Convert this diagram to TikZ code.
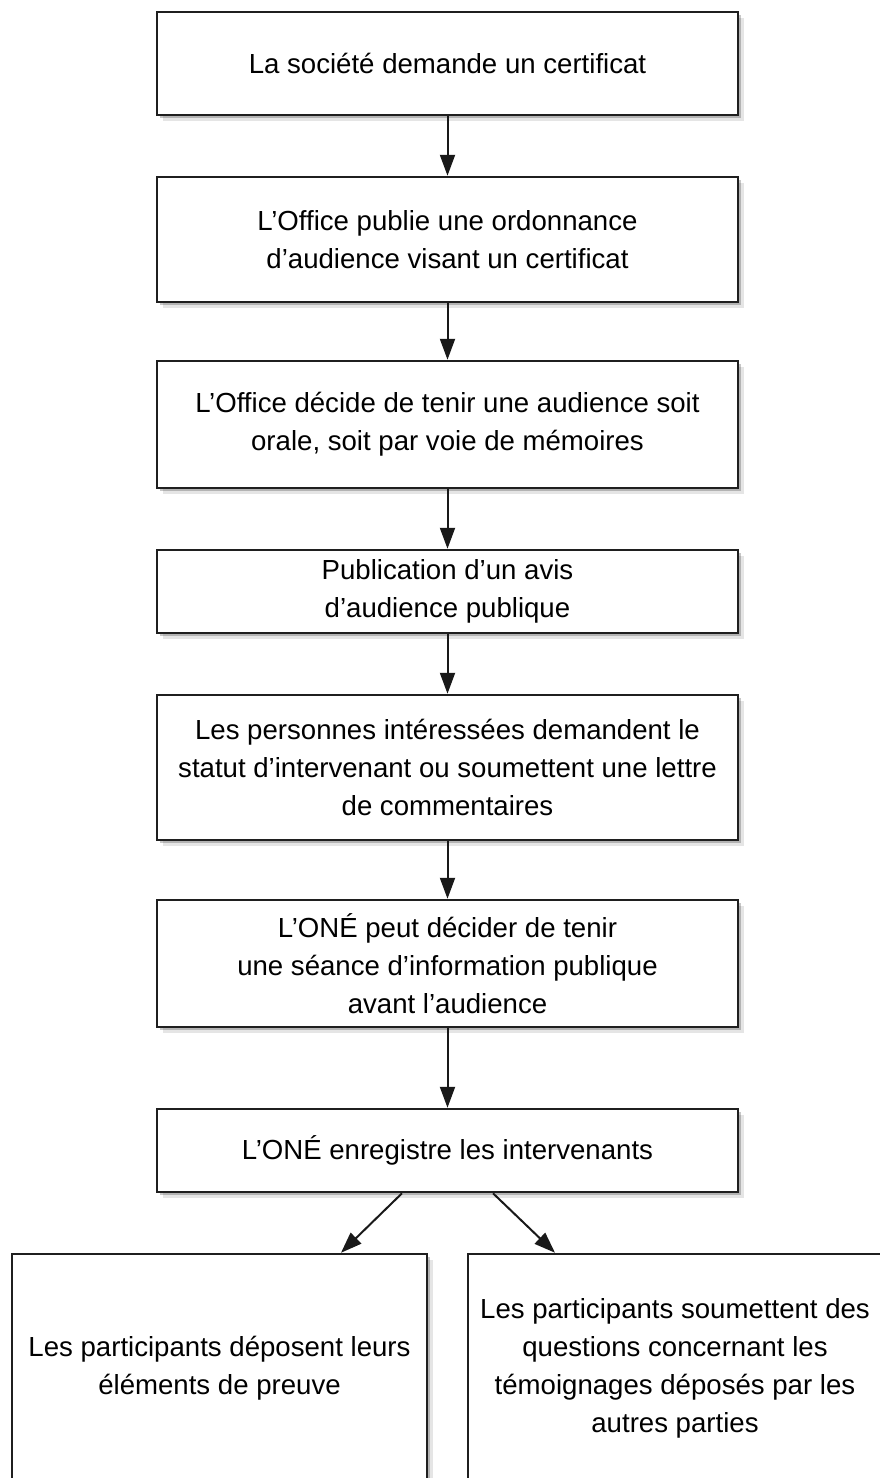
\documentclass[tikz,border=0pt]{standalone}
\usepackage{fontspec}
\setmainfont{Liberation Sans}
\usetikzlibrary{arrows.meta,shadows}
\begin{document}
\begin{tikzpicture}[x=1pt,y=-1pt,
 boxsh/.style={drop shadow={shadow xshift=3pt,shadow yshift=-3pt,opacity=0.22,fill=black},
               drop shadow={shadow xshift=6pt,shadow yshift=-6pt,opacity=0.10,fill=black}},
 box/.style={boxsh, draw=black!88, line width=2.5pt, fill=white, minimum width=581pt,
   inner sep=0pt, align=center, font=\fontsize{27.6}{38}\selectfont},
 arr/.style={line width=2pt, draw=black!90, -{Triangle[length=21pt,width=15pt]}},
]
\useasboundingbox (0,0) rectangle (879,1478);
\node[box, minimum height=103pt] (b1) at (447.5,63.5) {La société demande un certificat};
\node[box, minimum height=125pt] (b2) at (447.5,239.5) {L’Office publie une ordonnance\\d’audience visant un certificat};
\node[box, minimum height=127pt] (b3) at (447.5,424.5) {L’Office décide de tenir une audience soit\\orale, soit par voie de mémoires};
\node[box, minimum height=83pt] (b4) at (447.5,591.5) {Publication d’un avis\\d’audience publique};
\node[box, minimum height=145pt] (b5) at (447.5,767.5) {Les personnes intéressées demandent le\\statut d’intervenant ou soumettent une lettre\\de commentaires};
\node[box, minimum height=127pt] (b6) at (447.5,963.5) {L’ONÉ peut décider de tenir\\une séance d’information publique\\avant l’audience};
\node[box, minimum height=83pt] (b7) at (447.5,1150.5) {L’ONÉ enregistre les intervenants};
\node[box, minimum width=415pt, minimum height=228pt] (b8) at (219.5,1368) {Les participants déposent leurs\\éléments de preuve};
\node[box, minimum width=414pt, minimum height=228pt] (b9) at (675,1368) {Les participants soumettent des\\questions concernant les\\témoignages déposés par les\\autres parties};
\draw[arr] (b1) -- (b2);
\draw[arr] (b2) -- (b3);
\draw[arr] (b3) -- (b4);
\draw[arr] (b4) -- (b5);
\draw[arr] (b5) -- (b6);
\draw[arr] (b6) -- (b7);
\draw[arr] ([xshift=-45.5pt]b7.south) -- ([xshift=121.5pt]b8.north);
\draw[arr] ([xshift=45.5pt]b7.south) -- ([xshift=-120pt]b9.north);
\end{tikzpicture}
\end{document}
